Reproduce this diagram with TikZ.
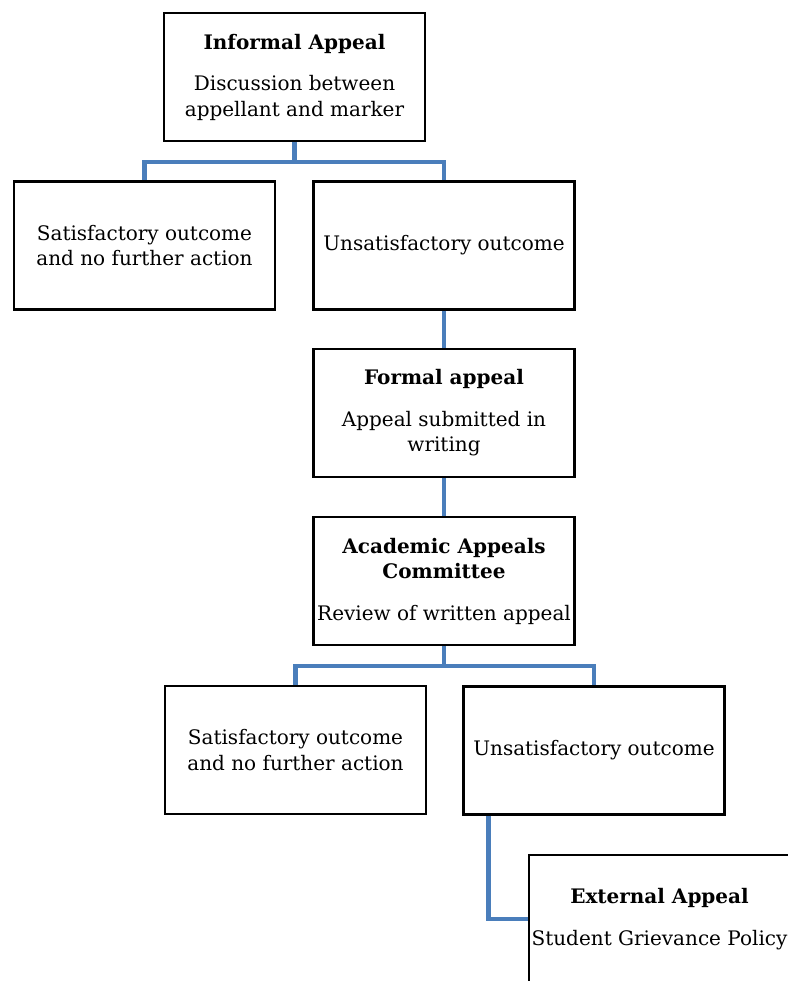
\documentclass[tikz,border=0pt]{standalone}
\usepackage{fontspec}
\setmainfont{DejaVu Serif}
\begin{document}
\begin{tikzpicture}[x=1pt,y=1pt,
  box/.style={draw=black,line width=2.2pt,minimum width=261pt,minimum height=128pt,inner sep=0pt,align=center,
    font=\fontsize{20}{25.5}\selectfont},
  conn/.style={draw=linkblue,line width=4.3pt}]
\definecolor{linkblue}{HTML}{4A7EBB}
\useasboundingbox (0,0) rectangle (787,-981);
\node[box] (b1) at (294.5,-77) {\textbf{Informal Appeal}\\[16pt]Discussion between\\appellant and marker};
\node[box] (b2) at (144.5,-245.5) {Satisfactory outcome\\and no further action};
\node[box] (b3) at (444,-245.5) {Unsatisfactory outcome};
\node[box] (b4) at (444,-413) {\textbf{Formal appeal}\\[16pt]Appeal submitted in\\writing};
\node[box] (b5) at (444,-581) {\textbf{Academic Appeals}\\\textbf{Committee}\\[16pt]Review of written appeal};
\node[box] (b6) at (295.5,-750) {Satisfactory outcome\\and no further action};
\node[box] (b7) at (594,-750.5) {Unsatisfactory outcome};
\node[box] (b8) at (659.5,-919) {\textbf{External Appeal}\\[16pt]Student Grievance Policy};
\coordinate (s7) at ([xshift=26pt]b7.south west);
\draw[conn] (b1.south) -- ++(0,-20) -| (b2.north);
\draw[conn] (b1.south) -- ++(0,-20) -| (b3.north);
\draw[conn] (b3.south) -- (b4.north);
\draw[conn] (b4.south) -- (b5.north);
\draw[conn] (b5.south) -- ++(0,-20) -| (b6.north);
\draw[conn] (b5.south) -- ++(0,-20) -| (b7.north);
\draw[conn] (s7) |- (b8.west);
\end{tikzpicture}
\end{document}
